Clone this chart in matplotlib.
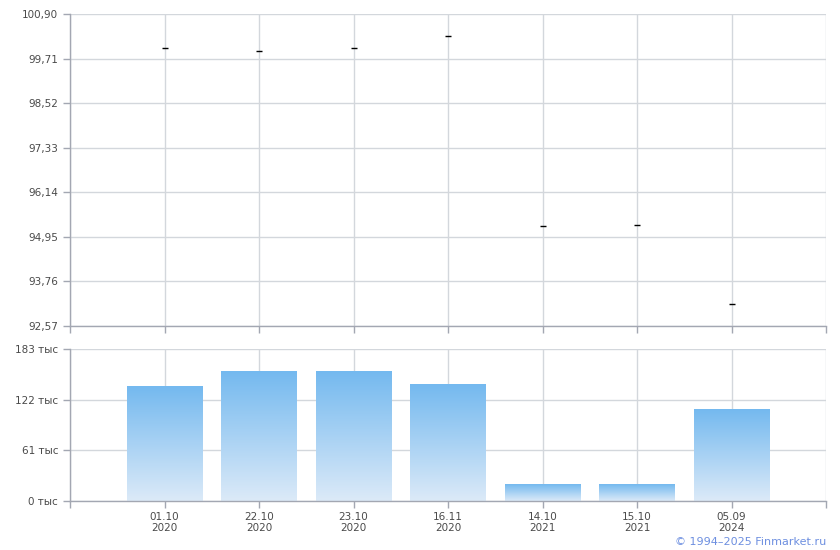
import matplotlib
matplotlib.use('Agg')

import numpy as np
import matplotlib.pyplot as plt

# --- данные ---
dates = ['01.10\n2020', '22.10\n2020', '23.10\n2020', '16.11\n2020',
         '14.10\n2021', '15.10\n2021', '05.09\n2024']
prices = [99.99, 99.91, 99.99, 100.31, 95.24, 95.27, 93.16]
volumes = [137.3, 156.5, 156.5, 139.7, 19.3, 19.3, 109.6]   # тыс
price_ticks = [92.57, 93.76, 94.95, 96.14, 97.33, 98.52, 99.71, 100.90]
volume_ticks = [0, 61, 122, 183]

# --- стиль ---
GRID = '#d3d7dc'
SPINE = '#a3a7b2'
TEXT = '#4a4a4a'
BAR_TOP = np.array([0x74, 0xb9, 0xef]) / 255
BAR_BOTTOM = np.array([0xdc, 0xea, 0xf8]) / 255
FS = 7.5

fig = plt.figure(figsize=(8.4, 5.5), dpi=100)
ax1 = fig.add_axes([70 / 840, 1 - 326 / 550, 756 / 840, 312 / 550])
ax2 = fig.add_axes([70 / 840, 1 - 501 / 550, 756 / 840, 152 / 550])

x = np.arange(len(dates))


def style_axes(ax):
    for side in ['top', 'right']:
        ax.spines[side].set_visible(False)
    for side in ['left', 'bottom']:
        ax.spines[side].set_color(SPINE)
        ax.spines[side].set_linewidth(1.0)
    ax.tick_params(colors=SPINE, labelcolor=TEXT, labelsize=FS, length=5, width=1)
    ax.set_xlim(-1, len(dates))
    ax.grid(True, color=GRID, linewidth=1.0)
    ax.set_axisbelow(True)


# --- цена ---
style_axes(ax1)
ax1.plot(x, prices, linestyle='none', marker='_', markersize=5,
         markeredgewidth=1.0, color='black')
ax1.set_ylim(price_ticks[0], price_ticks[-1])
ax1.set_yticks(price_ticks)
ax1.set_yticklabels([f'{v:.2f}'.replace('.', ',') for v in price_ticks])
ax1.set_xticks(np.arange(-1, len(dates) + 1))
ax1.set_xticklabels([])

# --- объём ---
style_axes(ax2)
ax2.set_ylim(0, volume_ticks[-1])
ax2.set_yticks(volume_ticks)
ax2.set_yticklabels([f'{v} тыс' for v in volume_ticks])
ax2.set_xticks(np.arange(-1, len(dates) + 1))
ax2.set_xticklabels([''] + dates + [''])
ax2.tick_params(axis='x', pad=3)
for lbl in ax2.get_xticklabels():
    lbl.set_linespacing(1.1)

grad = np.linspace(0, 1, 256)[:, None, None]
grad_img = BAR_BOTTOM * (1 - grad) + BAR_TOP * grad
bar_w = 0.8
for xi, v in zip(x, volumes):
    ax2.imshow(grad_img, extent=(xi - bar_w / 2, xi + bar_w / 2, 0, v),
               origin='lower', aspect='auto', zorder=2, interpolation='bilinear')
ax2.set_xlim(-1, len(dates))
ax2.set_ylim(0, volume_ticks[-1])

fig.text(826 / 840, 1 - 542 / 550, '© 1994–2025 Finmarket.ru', ha='right',
         va='center', fontsize=8, color='#6d8fe0')

fig.savefig('out.png', dpi=100)
